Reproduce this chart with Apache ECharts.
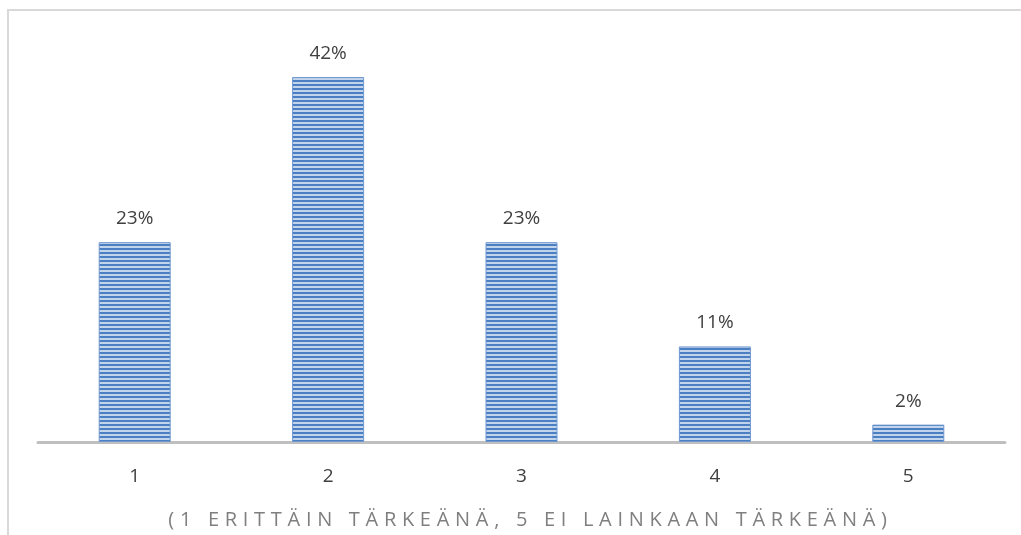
<!DOCTYPE html>
<html>
<head>
<meta charset="utf-8">
<script src="https://cdn.jsdelivr.net/npm/echarts@6/dist/echarts.min.js"></script>
<style>
  html, body { margin: 0; padding: 0; background: #fff; overflow: hidden; width: 1021px; height: 535px; }
  #frame {
    position: absolute; left: 7px; top: 9px; width: 1100px; height: 600px;
    border-left: 2px solid #d9d9d9; border-top: 2px solid #d9d9d9;
  }
  #chart { width: 1021px; height: 535px; position: absolute; left: 0; top: 0; }
  #axisTitle {
    position: absolute; left: 20px; width: 1021px; top: 505px;
    text-align: center; font-family: "Open Sans", sans-serif; font-size: 20px;
    letter-spacing: 5.7px; color: #7f7f7f; white-space: nowrap;
  }
</style>
</head>
<body>
<div id="frame"></div>
<div id="chart"></div>
<div id="axisTitle">(1 ERITTÄIN TÄRKEÄNÄ, 5 EI LAINKAAN TÄRKEÄNÄ)</div>
<script>
// data
var categories = ['1', '2', '3', '4', '5'];
var values = [23, 42, 23, 11, 2];

// striped fill like the original bars
function stripes() {
  var c = document.createElement('canvas');
  c.width = 4; c.height = 4;
  var ctx = c.getContext('2d');
  ctx.fillStyle = '#c2d4ec';
  ctx.fillRect(0, 0, 4, 4);
  ctx.fillStyle = '#4a7fc1';
  ctx.fillRect(0, 0, 4, 2);
  return c;
}

var chart = echarts.init(document.getElementById('chart'));
var option = {
  animation: false,
  grid: { left: 38, right: 16, top: 51, bottom: 93 },
  xAxis: {
    type: 'category',
    data: categories,
    axisTick: { show: false },
    axisLine: { lineStyle: { color: '#bfbfbf', width: 3 } },
    axisLabel: { color: '#404040', fontSize: 19, fontFamily: 'Open Sans', margin: 25 }
  },
  yAxis: {
    type: 'value',
    min: 0,
    max: 45,
    show: false,
    splitLine: { show: false }
  },
  series: [{
    type: 'bar',
    data: values,
    barWidth: 72,
    itemStyle: {
      color: { image: stripes(), repeat: 'repeat' },
      borderColor: '#6f98d0',
      borderWidth: 1
    },
    label: {
      show: true,
      position: 'top',
      distance: 14,
      formatter: '{c}%',
      color: '#404040',
      fontSize: 19,
      fontFamily: 'Open Sans'
    }
  }]
};
chart.setOption(option);
</script>
</body>
</html>
